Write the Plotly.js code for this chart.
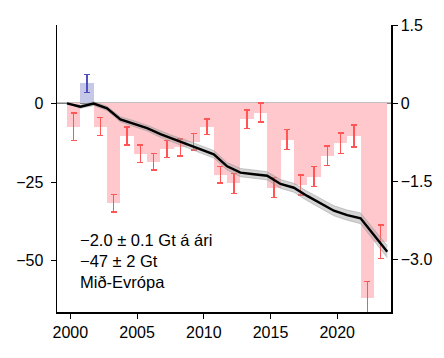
<!DOCTYPE html>
<html>
<head>
<meta charset="utf-8">
<script src="https://cdn.plot.ly/plotly-3.0.1.min.js"></script>
<style>
  html, body { margin: 0; padding: 0; background: #fff; }
  #chart { width: 444px; height: 358px; }
</style>
</head>
<body>
<div id="chart"></div>
<script>
// Hydrological years (bars span Oct of previous year to Sep)
const years = [2000, 2001, 2002, 2003, 2004, 2005, 2006, 2007, 2008, 2009, 2010, 2011,
               2012, 2013, 2014, 2015, 2016, 2017, 2018, 2019, 2020, 2021, 2022, 2023];
// Annual specific mass change (right axis, m w.e.)
const annualChange = [-0.45, 0.38, -0.45, -1.92, -0.63, -0.97, -1.12, -0.88, -0.85, -0.74, -0.45, -1.37,
                      -1.54, -0.31, -0.18, -1.62, -0.70, -1.57, -1.41, -1.01, -0.77, -0.63, -3.73, -2.66];
const annualError = [0.26, 0.17, 0.17, 0.17, 0.17, 0.17, 0.16, 0.16, 0.16, 0.16, 0.15, 0.16,
                     0.19, 0.18, 0.18, 0.19, 0.19, 0.19, 0.19, 0.19, 0.20, 0.21, 0.31, 0.32];
// Cumulative mass change (left axis, Gt), start of 2000 then end of each year
const cumulative = [0, -1.1, -0.1, -1.6, -5.1, -6.4, -7.9, -9.8, -11.4, -12.9, -14.6, -16.2, -20.0,
                    -22.0, -22.5, -23.0, -25.6, -26.8, -29.4, -31.7, -34.1, -35.5, -36.5, -41.8, -47.1];
const cumulativeError = [0, 0.5, 0.6, 0.7, 0.8, 0.9, 0.9, 1.0, 1.0, 1.1, 1.1, 1.2, 1.2,
                         1.3, 1.3, 1.3, 1.4, 1.4, 1.5, 1.5, 1.6, 1.6, 1.7, 1.8, 1.9];
const leftTicks = [0, -25, -50];
const leftTickText = ['0', '\u221225', '\u221250'];
const rightTicks = [1.5, 0, -1.5, -3.0];
const rightTickText = ['1.5', '0', '\u22121.5', '\u22123.0'];
const xTicks = [2000, 2005, 2010, 2015, 2020];
const textLines = ['\u22122.0 \u00b1 0.1 Gt \u00e1 \u00e1ri', '\u221247 \u00b1 2 Gt', 'Mi\u00f0-Evr\u00f3pa'];

const barX = years.map(y => y + 0.25);
const cumX = [years[0] - 0.25].concat(years.map(y => y + 0.75));

const negIdx = annualChange.map((v, i) => v < 0 ? i : -1).filter(i => i >= 0);
const posIdx = annualChange.map((v, i) => v >= 0 ? i : -1).filter(i => i >= 0);

const FONT = 'Liberation Sans, Arial, Helvetica, sans-serif';

const traces = [
  {
    type: 'bar', x: negIdx.map(i => barX[i]), y: negIdx.map(i => annualChange[i]),
    width: 1, yaxis: 'y', marker: { color: '#ffc8cc', line: { width: 0 } },
    error_y: { type: 'data', array: negIdx.map(i => annualError[i]), visible: true,
               color: '#ff5555', thickness: 1.4, width: 3 },
    hoverinfo: 'skip', showlegend: false
  },
  {
    type: 'bar', x: posIdx.map(i => barX[i]), y: posIdx.map(i => annualChange[i]),
    width: 1, yaxis: 'y', marker: { color: '#c6c8e8', line: { width: 0 } },
    error_y: { type: 'data', array: posIdx.map(i => annualError[i]), visible: true,
               color: '#5050c0', thickness: 1.4, width: 3 },
    hoverinfo: 'skip', showlegend: false
  },
  {
    type: 'scatter', mode: 'lines', x: cumX, y: cumulative.map((v, i) => v + cumulativeError[i]),
    yaxis: 'y2',
    line: { color: 'rgba(150,150,150,0.6)', width: 0.8 }, hoverinfo: 'skip', showlegend: false
  },
  {
    type: 'scatter', mode: 'lines', x: cumX, y: cumulative.map((v, i) => v - cumulativeError[i]),
    yaxis: 'y2', fill: 'tonexty', fillcolor: 'rgba(160,160,160,0.45)',
    line: { color: 'rgba(150,150,150,0.6)', width: 0.8 }, hoverinfo: 'skip', showlegend: false
  },
  {
    type: 'scatter', mode: 'lines', x: cumX, y: cumulative, yaxis: 'y2',
    line: { color: '#000000', width: 2.4 }, hoverinfo: 'skip', showlegend: false
  }
];

const annY = [0.251, 0.179, 0.106];
const annotations = textLines.map((t, i) => ({
  text: t, xref: 'paper', yref: 'paper', x: 0.062, y: annY[i],
  xanchor: 'left', yanchor: 'middle', showarrow: false,
  font: { family: FONT, size: 16.5, color: '#000' }
}));

const layout = {
  width: 444, height: 358,
  margin: { l: 57, r: 53, t: 25, b: 46, pad: 0 },
  paper_bgcolor: '#ffffff', plot_bgcolor: '#ffffff',
  font: { family: FONT, size: 16, color: '#000' },
  bargap: 0,
  showlegend: false,
  xaxis: {
    range: [1999, 2024.03], tickvals: xTicks, ticktext: xTicks.map(String),
    showline: true, linecolor: '#000', linewidth: 1.5, ticks: 'outside', ticklen: 5,
    tickwidth: 1, tickcolor: '#000', showgrid: false, zeroline: false, mirror: false,
    tickfont: { family: FONT, size: 16, color: '#000' }
  },
  // right axis: annual change (bars)
  yaxis: {
    range: [-4.006, 1.5], tickvals: rightTicks, ticktext: rightTickText,
    side: 'right',
    showline: true, linecolor: '#000', linewidth: 1.5, ticks: 'outside', ticklen: 5,
    tickwidth: 1, tickcolor: '#000', showgrid: false, zeroline: false,
    tickfont: { family: FONT, size: 16, color: '#000' }
  },
  // left axis: cumulative change (line), drawn on top
  yaxis2: {
    range: [-66.25, 24.86], tickvals: leftTicks, ticktext: leftTickText,
    overlaying: 'y', side: 'left',
    showline: true, linecolor: '#000', linewidth: 1.5, ticks: 'outside', ticklen: 5,
    tickwidth: 1, tickcolor: '#000', showgrid: false, zeroline: false,
    ticklabelstandoff: 4,
    tickfont: { family: FONT, size: 16, color: '#000' }
  },
  shapes: [
    { type: 'line', xref: 'paper', yref: 'y', x0: 0, x1: 1, y0: 0, y1: 0,
      line: { color: '#808080', width: 1.5 }, layer: 'below' }
  ],
  annotations: annotations
};

Plotly.newPlot('chart', traces, layout, { staticPlot: true, displayModeBar: false });
</script>
</body>
</html>
